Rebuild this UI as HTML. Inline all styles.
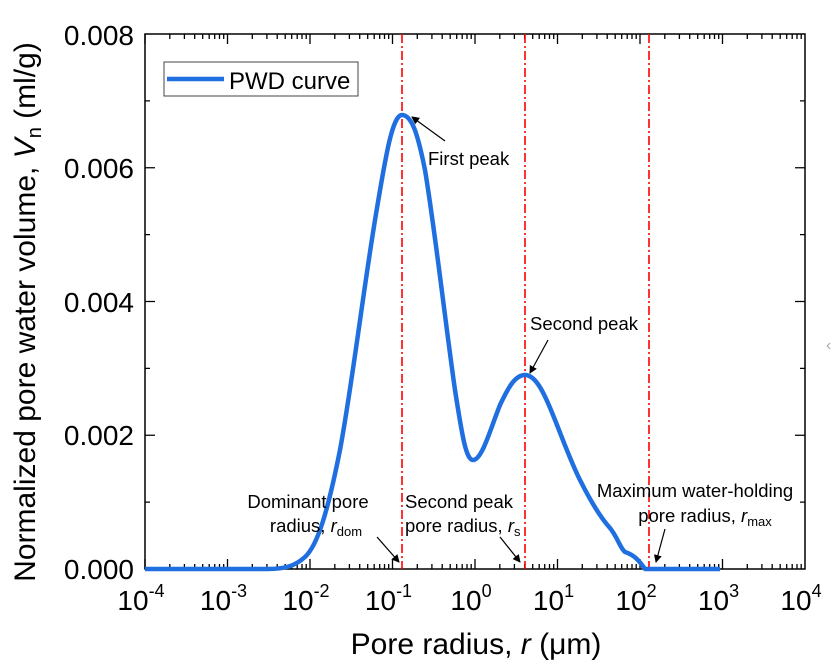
<!DOCTYPE html>
<html><head><meta charset="utf-8"><style>
body{margin:0;background:#fff;}
svg{display:block;font-family:"Liberation Sans",Arial,sans-serif;}
</style></head><body>
<svg width="837" height="672" viewBox="0 0 837 672" xmlns="http://www.w3.org/2000/svg" xmlns:xlink="http://www.w3.org/1999/xlink">
<rect width="837" height="672" fill="#fff"/>
<defs>
<g id="dec" stroke="#000" stroke-width="1.3">
<path d="M0,569v-10M0,34v10M24.8,569v-5M39.4,569v-5M49.7,569v-5M57.7,569v-5M64.2,569v-5M69.7,569v-5M74.5,569v-5M78.7,569v-5M24.8,34v5M39.4,34v5M49.7,34v5M57.7,34v5M64.2,34v5M69.7,34v5M74.5,34v5M78.7,34v5"/>
</g>
<marker id="ah" markerWidth="8" markerHeight="8" refX="7" refY="4" orient="auto" markerUnits="userSpaceOnUse"><path d="M0,0 L8,4 L0,8 z" fill="#000"/></marker>
</defs>
<use xlink:href="#dec" href="#dec" x="145"/>
<use xlink:href="#dec" href="#dec" x="227.5"/>
<use xlink:href="#dec" href="#dec" x="310"/>
<use xlink:href="#dec" href="#dec" x="392.5"/>
<use xlink:href="#dec" href="#dec" x="475"/>
<use xlink:href="#dec" href="#dec" x="557.5"/>
<use xlink:href="#dec" href="#dec" x="640"/>
<use xlink:href="#dec" href="#dec" x="722.5"/>
<path stroke="#000" stroke-width="1.3" d="M145,502.1h5M145,435.25h10M145,368.4h5M145,301.5h10M145,234.6h5M145,167.75h10M145,100.9h5M805,502.1h-5M805,435.25h-10M805,368.4h-5M805,301.5h-10M805,234.6h-5M805,167.75h-10M805,100.9h-5"/>
<rect x="145" y="34" width="660" height="535" fill="none" stroke="#000" stroke-width="1.5"/>
<g stroke="#f00" stroke-width="1.6" stroke-dasharray="9,3,2,3">
<line x1="402" y1="34" x2="402" y2="569"/>
<line x1="525" y1="34" x2="525" y2="569"/>
<line x1="649" y1="34" x2="649" y2="569"/>
</g>
<path d="M145,569 L268,569 C285,569 295,566 305,557 C318,545 328,510 340,450 C352,385 362,300 375,220 C385,160 392,115 402,115 C412,115 418,135 425,170 C435,230 445,320 455,390 C462,435 466,460 473,460 C482,460 490,430 500,405 C508,388 515,375 525,375 C535,375 543,390 553,415 C562,437 570,460 580,480 C590,500 600,517 610,528 C618,538 620,548 625,552 C635,555 640,562 645,569 L720,569" fill="none" stroke="#1f6fe0" stroke-width="4.5" stroke-linejoin="round"/>
<g font-size="28" fill="#000" text-anchor="end">
<text x="134" y="579">0.000</text>
<text x="134" y="445">0.002</text>
<text x="134" y="312">0.004</text>
<text x="134" y="178">0.006</text>
<text x="134" y="45">0.008</text>
</g>
<g font-size="28" fill="#000" text-anchor="middle">
<text x="141" y="610">10<tspan font-size="18" dy="-13">-4</tspan></text>
<text x="223.5" y="610">10<tspan font-size="18" dy="-13">-3</tspan></text>
<text x="306" y="610">10<tspan font-size="18" dy="-13">-2</tspan></text>
<text x="388.5" y="610">10<tspan font-size="18" dy="-13">-1</tspan></text>
<text x="471" y="610">10<tspan font-size="18" dy="-13">0</tspan></text>
<text x="553.5" y="610">10<tspan font-size="18" dy="-13">1</tspan></text>
<text x="636" y="610">10<tspan font-size="18" dy="-13">2</tspan></text>
<text x="718.5" y="610">10<tspan font-size="18" dy="-13">3</tspan></text>
<text x="801" y="610">10<tspan font-size="18" dy="-13">4</tspan></text>
</g>
<text x="476" y="654" font-size="30" text-anchor="middle">Pore radius, <tspan font-style="italic">r</tspan> (μm)</text>
<text transform="translate(35,312) rotate(-90)" font-size="30" text-anchor="middle">Normalized pore water volume, <tspan font-style="italic">V</tspan><tspan font-size="20" dy="6">n</tspan><tspan dy="-6"> (ml/g)</tspan></text>
<rect x="164" y="62" width="194" height="34" fill="#fff" stroke="#444" stroke-width="1"/>
<line x1="167" y1="79" x2="224" y2="79" stroke="#1f6fe0" stroke-width="4.5"/>
<text x="229" y="89" font-size="24">PWD curve</text>
<g font-size="18.5" fill="#000">
<text x="428" y="165">First peak</text>
<text x="530" y="330">Second peak</text>
<text x="308" y="508" text-anchor="middle">Dominant pore</text>
<text x="316" y="532" text-anchor="middle">radius, <tspan font-style="italic">r</tspan><tspan font-size="13" dy="4">dom</tspan></text>
<text x="405" y="508">Second peak</text>
<text x="405" y="532">pore radius, <tspan font-style="italic">r</tspan><tspan font-size="13" dy="4">s</tspan></text>
<text x="695" y="497" text-anchor="middle">Maximum water-holding</text>
<text x="705" y="522" text-anchor="middle">pore radius, <tspan font-style="italic">r</tspan><tspan font-size="13" dy="4">max</tspan></text>
</g>
<g stroke="#000" stroke-width="1.2" marker-end="url(#ah)">
<line x1="445" y1="141" x2="412" y2="117"/>
<line x1="548" y1="340" x2="530" y2="373"/>
<line x1="377" y1="537" x2="399" y2="562"/>
<line x1="500" y1="537" x2="520" y2="562"/>
<line x1="665" y1="529" x2="656" y2="562"/>
</g>
<text x="826" y="350" font-size="16" fill="#aaa">‹</text>
</svg>
</body></html>
